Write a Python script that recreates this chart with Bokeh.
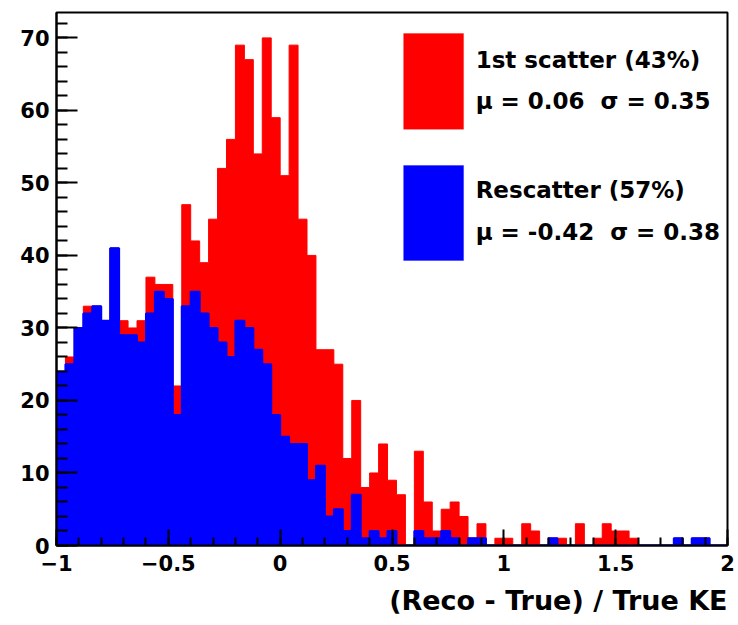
import numpy as np
from bokeh.plotting import figure
from bokeh.models import (Range1d, FixedTicker, CustomJSTickFormatter, BoxAnnotation,
                          Label, Title)
from bokeh.embed import file_html
from bokeh.resources import INLINE

# ---------------- data ----------------
X_LO, X_HI, N_BINS = -1.0, 2.0, 75

# Rescatter counts per bin (blue)
rescatter = [24, 25, 30, 32, 33, 31, 41, 29, 29, 28, 32, 35, 34, 18, 33,
             35, 32, 30, 28, 26, 31, 30, 27, 25, 18, 15, 14, 14, 9, 11,
             4, 5, 2, 7, 1, 2, 1, 2, 0, 0, 2, 1, 1, 2, 1,
             0, 1, 1, 0, 0, 0, 0, 0, 0, 0, 1, 0, 0, 0, 0,
             0, 0, 0, 0, 0, 0, 0, 0, 0, 1, 0, 1, 1, 0, 0]

# 1st scatter counts per bin (red, stacked on top of rescatter)
first_scatter = [0, 1, 0, 1, 0, 0, 0, 2, 1, 3, 5, 1, 2, 4, 14,
                 7, 7, 15, 24, 30, 38, 37, 27, 45, 41, 36, 55, 31, 31, 16,
                 23, 20, 10, 13, 7, 8, 13, 7, 7, 0, 11, 5, 1, 3, 5,
                 4, 0, 2, 0, 1, 1, 0, 3, 2, 0, 0, 1, 0, 3, 0,
                 1, 3, 2, 2, 1, 0, 0, 0, 0, 0, 0, 0, 0, 0, 0]

legend_titles = ["1st scatter (43%)", "Rescatter (57%)"]
legend_stats = ["\u03bc = 0.06\u00a0\u00a0\u03c3 = 0.35", "\u03bc = -0.42\u00a0\u00a0\u03c3 = 0.38"]

x_ticks = [-1, -0.5, 0, 0.5, 1, 1.5, 2]
y_ticks = [0, 10, 20, 30, 40, 50, 60, 70]
x_title = "(Reco - True) / True KE"

# ---------------- build ----------------
edges = np.linspace(X_LO, X_HI, N_BINS + 1)
blue = np.array(rescatter, dtype=float)
total = blue + np.array(first_scatter, dtype=float)


def step_polygon(vals):
    xs = np.repeat(edges, 2)
    ys = np.concatenate([[0.0], np.repeat(vals, 2), [0.0]])
    return xs, ys


FONT = "DejaVu Sans"
RED = "#ff0000"
BLUE = "#0000ff"

p = figure(width=738, height=625, output_backend="svg", toolbar_location=None,
           x_range=Range1d(X_LO, X_HI), y_range=Range1d(0, 73.5),
           min_border_left=56, min_border_right=11, min_border_top=12,
           min_border_bottom=80)
p.background_fill_color = "white"
p.border_fill_color = "white"
p.grid.visible = False
p.outline_line_color = "black"
p.outline_line_width = 2

rx, ry = step_polygon(total)
p.patch(rx, ry, fill_color=RED, line_color=RED, line_width=1)
bx, by = step_polygon(blue)
p.patch(bx, by, fill_color=BLUE, line_color=BLUE, line_width=1)

# outline of the rescatter histogram (ROOT draws it along zero bins too)
sx = np.repeat(edges, 2)[1:-1]
sy = np.repeat(blue, 2)
p.line(sx, sy, line_color=BLUE, line_width=2)

# axes
xminor = [round(v, 2) for v in np.arange(-1.0, 2.0001, 0.1)]
p.xaxis.ticker = FixedTicker(ticks=x_ticks, minor_ticks=xminor)
p.yaxis.ticker = FixedTicker(ticks=y_ticks, minor_ticks=list(range(0, 74, 2)))
fmt = CustomJSTickFormatter(code="""
    if (tick < 0) { return "\u2212" + String(Math.abs(tick)); }
    return String(tick);
""")
p.xaxis.formatter = fmt

for ax in (p.xaxis, p.yaxis):
    ax.axis_line_width = 2
    ax.axis_line_color = "black"
    ax.major_tick_line_width = 2
    ax.minor_tick_line_width = 2
    ax.major_tick_out = 0
    ax.minor_tick_out = 0
    ax.major_label_text_font = FONT
    ax.major_label_text_font_style = "bold"
    ax.major_label_text_font_size = "21px"
    ax.major_label_text_color = "black"

p.xaxis.major_tick_in = 16
p.xaxis.minor_tick_in = 8
p.yaxis.major_tick_in = 21
p.yaxis.minor_tick_in = 11
p.xaxis.major_label_standoff = 9
p.yaxis.major_label_standoff = 7

t = Title(text=x_title, align="right", text_font=FONT, text_font_style="bold",
          text_font_size="27px", text_color="black", standoff=18)
p.add_layout(t, "below")

# legend
box_left, box_right = 0.552, 0.820
p.add_layout(BoxAnnotation(left=box_left, right=box_right, bottom=57.4, top=70.6,
                           fill_color=RED, fill_alpha=1.0, line_color=RED))
p.add_layout(BoxAnnotation(left=box_left, right=box_right, bottom=39.3, top=52.4,
                           fill_color=BLUE, fill_alpha=1.0, line_color=BLUE))
text_x = 0.874
for txt, yv in zip([legend_titles[0], legend_stats[0], legend_titles[1], legend_stats[1]],
                   [66.9, 61.3, 49.0, 43.2]):
    p.add_layout(Label(x=text_x, y=yv, text=txt, text_font=FONT, text_font_style="bold",
                       text_font_size="23px", text_color="black", text_baseline="middle",
                       text_align="left"))

open("out.html", "w").write(file_html(p, INLINE))
